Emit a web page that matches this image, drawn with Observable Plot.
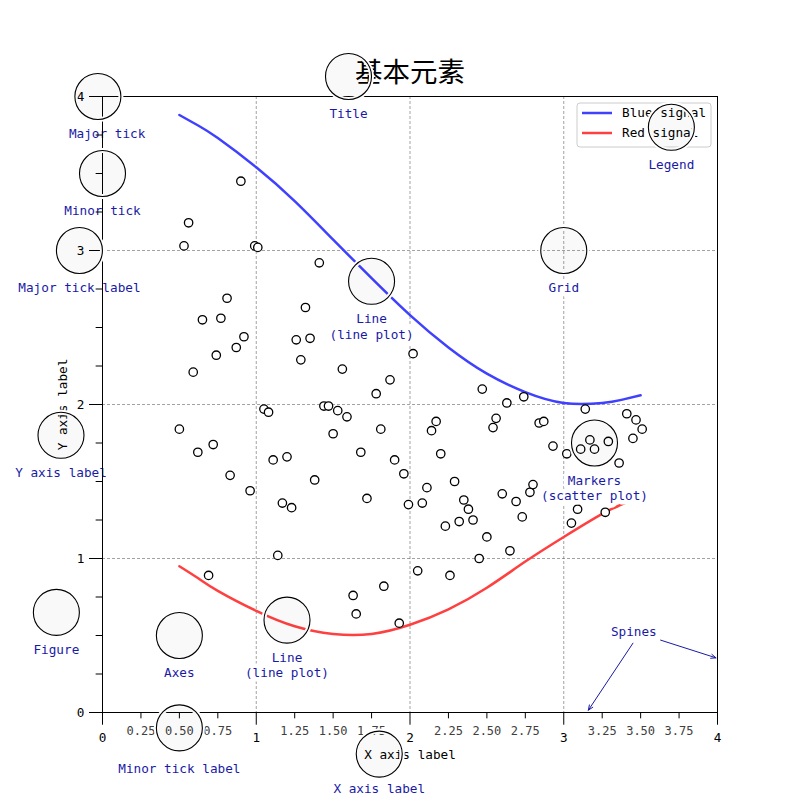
<!DOCTYPE html>
<html>
<head>
<meta charset="utf-8">
<script src="https://cdn.jsdelivr.net/npm/d3@7"></script>
<script src="https://cdn.jsdelivr.net/npm/@observablehq/plot@0.6"></script>
<style>
  html, body { margin: 0; padding: 0; background: white; }
</style>
</head>
<body>
<div id="chart"></div>
<script>
// ---- Data ----
const titleText = "基本元素";
const xLabel = "X axis label";
const yLabel = "Y axis label";

const seriesNames = ["Blue signal", "Red signal"];
const seriesColors = ["#4040ff", "#ff4040"];

const lineX = [0.5, 0.625, 0.75, 1.0, 1.25, 1.5, 1.75, 2.0, 2.25, 2.5, 2.75, 3.0, 3.25, 3.375, 3.5];
const blueY = [3.88, 3.81, 3.73, 3.54, 3.32, 3.07, 2.82, 2.58, 2.37, 2.20, 2.08, 2.01, 2.01, 2.03, 2.06];
const redY  = [0.95, 0.87, 0.79, 0.66, 0.56, 0.51, 0.51, 0.57, 0.67, 0.81, 0.98, 1.14, 1.29, 1.35, 1.41];

const scatterX = [0.50,0.53,0.56,0.59,0.62,0.65,0.69,0.72,0.74,0.77,
  0.81,0.83,0.87,0.90,0.92,0.96,0.99,1.01,1.05,1.08,
  1.11,1.14,1.17,1.20,1.23,1.26,1.29,1.32,1.35,1.38,
  1.41,1.44,1.47,1.50,1.53,1.56,1.59,1.63,1.65,1.68,
  1.72,1.78,1.81,1.83,1.87,1.90,1.93,1.96,1.99,2.02,
  2.05,2.08,2.11,2.14,2.17,2.20,2.23,2.26,2.29,2.32,
  2.35,2.38,2.41,2.45,2.47,2.50,2.54,2.56,2.60,2.63,
  2.65,2.69,2.73,2.74,2.78,2.80,2.84,2.87,2.93,3.02,
  3.05,3.09,3.11,3.14,3.17,3.20,3.27,3.29,3.36,3.41,
  3.45,3.47,3.51];
const scatterY = [1.84,3.03,3.18,2.21,1.69,2.55,0.89,1.74,2.32,2.56,
  2.69,1.54,2.37,3.45,2.44,1.44,3.03,3.02,1.97,1.95,
  1.64,1.02,1.36,1.66,1.33,2.42,2.29,2.63,2.43,1.51,
  2.92,1.99,1.99,1.81,1.96,2.23,1.92,0.76,0.64,1.69,
  1.39,2.07,1.84,0.82,2.16,1.64,0.58,1.55,1.35,2.33,
  0.92,1.36,1.46,1.83,1.89,1.68,1.21,0.89,1.50,1.24,
  1.38,1.32,1.25,1.00,2.10,1.14,1.85,1.91,1.42,2.01,
  1.05,1.37,1.27,2.05,1.43,1.48,1.88,1.89,1.73,1.68,
  1.23,1.32,1.71,1.97,1.77,1.71,1.30,1.76,1.62,1.94,
  1.78,1.90,1.84];

const xMajorTicks = [0, 1, 2, 3, 4];
const xMajorLabels = ["0", "1", "2", "3", "4"];
const xMinorTicks = [0.25, 0.5, 0.75, 1.25, 1.5, 1.75, 2.25, 2.5, 2.75, 3.25, 3.5, 3.75];
const xMinorLabels = ["0.25","0.50","0.75","1.25","1.50","1.75","2.25","2.50","2.75","3.25","3.50","3.75"];
const yMajorTicks = [0, 1, 2, 3, 4];
const yMajorLabels = ["0", "1", "2", "3", "4"];
const yMinorTicks = [0.25, 0.5, 0.75, 1.25, 1.5, 1.75, 2.25, 2.5, 2.75, 3.25, 3.5, 3.75];
const gridTicks = [1, 2, 3];

// annotation anchors (data coordinates, as in the original figure)
const annotations = [
  {cx: 0.50, cy: -0.10, tx: 0.50, ty: -0.32, label: "Minor tick label"},
  {cx: -0.03, cy: 4.00, tx: 0.03, ty: 3.80, label: "Major tick"},
  {cx: 0.00, cy: 3.50, tx: 0.00, ty: 3.30, label: "Minor tick"},
  {cx: -0.15, cy: 3.00, tx: -0.15, ty: 2.80, label: "Major tick label"},
  {cx: 1.80, cy: -0.27, tx: 1.80, ty: -0.45, label: "X axis label"},
  {cx: -0.27, cy: 1.80, tx: -0.27, ty: 1.60, label: "Y axis label"},
  {cx: 1.60, cy: 4.13, tx: 1.60, ty: 3.93, label: "Title"},
  {cx: 1.75, cy: 2.80, tx: 1.75, ty: 2.60, label: "Line\n(line plot)"},
  {cx: 1.20, cy: 0.60, tx: 1.20, ty: 0.40, label: "Line\n(line plot)"},
  {cx: 3.20, cy: 1.75, tx: 3.20, ty: 1.55, label: "Markers\n(scatter plot)"},
  {cx: 3.00, cy: 3.00, tx: 3.00, ty: 2.80, label: "Grid"},
  {cx: 3.70, cy: 3.80, tx: 3.70, ty: 3.60, label: "Legend"},
  {cx: 0.50, cy: 0.50, tx: 0.50, ty: 0.30, label: "Axes"},
  {cx: -0.30, cy: 0.65, tx: -0.30, ty: 0.45, label: "Figure"}
];
const spinesLabel = [{x: 3.3, y: 0.5, label: "Spines"}];
const spinesArrows = [
  {x1: 3.63, y1: 0.47, x2: 3.99, y2: 0.355},
  {x1: 3.45, y1: 0.45, x2: 3.16, y2: 0.015}
];

// ---- Build tables ----
const blueData = lineX.map((x, i) => ({x, y: blueY[i]}));
const redData = lineX.map((x, i) => ({x, y: redY[i]}));
const points = scatterX.map((x, i) => ({x, y: scatterY[i]}));

const annColor = "#1a1aa6";
const mono = "DejaVu Sans Mono";

function legendMark(index, scales, values, dimensions) {
  const right = dimensions.width - dimensions.marginRight;
  const top = dimensions.marginTop;
  const g = d3.create("svg:g");
  g.append("rect")
    .attr("x", right - 140).attr("y", top + 7)
    .attr("width", 134).attr("height", 44)
    .attr("rx", 3)
    .attr("fill", "white").attr("fill-opacity", 0.8)
    .attr("stroke", "#cccccc").attr("stroke-width", 1);
  seriesNames.forEach((name, i) => {
    const yy = top + 17 + i * 20;
    g.append("line")
      .attr("x1", right - 135).attr("x2", right - 105)
      .attr("y1", yy).attr("y2", yy)
      .attr("stroke", seriesColors[i]).attr("stroke-width", 2.5);
    g.append("text")
      .attr("x", right - 95).attr("y", yy)
      .attr("dy", "0.35em")
      .attr("text-anchor", "start")
      .attr("font-family", mono).attr("font-size", 12.7)
      .attr("fill", "black")
      .text(name);
  });
  return g.node();
}

const gridStyle = {stroke: "#555555", strokeOpacity: 1, strokeWidth: 0.55, strokeDasharray: "3,2"};

const chart = Plot.plot({
  width: 800,
  height: 800,
  marginLeft: 102,
  marginRight: 83,
  marginTop: 96,
  marginBottom: 88,
  style: {background: "white", fontFamily: mono, fontSize: "12.7px", color: "black"},
  x: {domain: [0, 4]},
  y: {domain: [0, 4]},
  marks: [
    Plot.gridX(gridTicks, gridStyle),
    Plot.gridY(gridTicks, gridStyle),
    Plot.line(blueData, {x: "x", y: "y", stroke: seriesColors[0], strokeWidth: 2.5, curve: "natural"}),
    Plot.line(redData, {x: "x", y: "y", stroke: seriesColors[1], strokeWidth: 2.5, curve: "natural"}),
    Plot.dot(points, {x: "x", y: "y", r: 4.2, fill: "white", stroke: "black", strokeWidth: 1.3}),
    Plot.text(annotations, {x: "tx", y: "ty", text: "label", lineAnchor: "top", lineHeight: 1.22,
      fill: annColor, stroke: "white", strokeWidth: 9, strokeLinejoin: "round", fontSize: 12.7, fontFamily: mono}),
    Plot.arrow(spinesArrows, {x1: "x1", y1: "y1", x2: "x2", y2: "y2", stroke: annColor, strokeWidth: 1, headLength: 8, headAngle: 45}),
    Plot.text(spinesLabel, {x: "x", y: "y", text: "label", textAnchor: "start", dx: 1, dy: -4,
      fill: annColor, stroke: "white", strokeWidth: 5, fontSize: 12.7, fontFamily: mono}),
    legendMark,
    Plot.frame({stroke: "black", strokeWidth: 1}),
    Plot.axisX(xMajorTicks, {anchor: "bottom", tickSize: 12.7, tickPadding: 7.5, label: null,
      tickFormat: d => xMajorLabels[xMajorTicks.indexOf(d)], fontSize: 12.7, fontFamily: mono, stroke: "black", fill: "black"}),
    Plot.axisX(xMinorTicks, {anchor: "bottom", tickSize: 6.35, tickPadding: 7.3, label: null,
      tickFormat: d => xMinorLabels[xMinorTicks.indexOf(d)], fontSize: 12, fontFamily: mono, stroke: "black", fill: "#404040"}),
    Plot.axisY(yMajorTicks, {anchor: "left", tickSize: 13, tickPadding: 5, label: null,
      tickFormat: d => yMajorLabels[yMajorTicks.indexOf(d)], fontSize: 12.7, fontFamily: mono, stroke: "black", fill: "black"}),
    Plot.axisY(yMinorTicks, {anchor: "left", tickSize: 6.35, label: null,
      tickFormat: () => "", stroke: "black"}),
    Plot.text([xLabel], {text: d => d, frameAnchor: "bottom", dy: 42, textAnchor: "middle", lineAnchor: "middle",
      fontSize: 12.7, fontFamily: mono, fill: "black"}),
    Plot.text([yLabel], {text: d => d, frameAnchor: "left", dx: -40, rotate: -90, textAnchor: "middle", lineAnchor: "middle",
      fontSize: 12.7, fontFamily: mono, fill: "black"}),
    Plot.text([titleText], {text: d => d, frameAnchor: "top", dy: -23, textAnchor: "middle", lineAnchor: "middle",
      fontSize: 27.5, fontFamily: "Noto Sans CJK SC", fill: "black"}),
    Plot.dot(annotations, {x: "cx", y: "cy", r: 23, fill: "none", stroke: "white", strokeWidth: 5}),
    Plot.dot(annotations, {x: "cx", y: "cy", r: 23, fill: "black", fillOpacity: 0.025, stroke: "black", strokeWidth: 1.1})
  ]
});
document.getElementById("chart").appendChild(chart);
</script>
</body>
</html>
